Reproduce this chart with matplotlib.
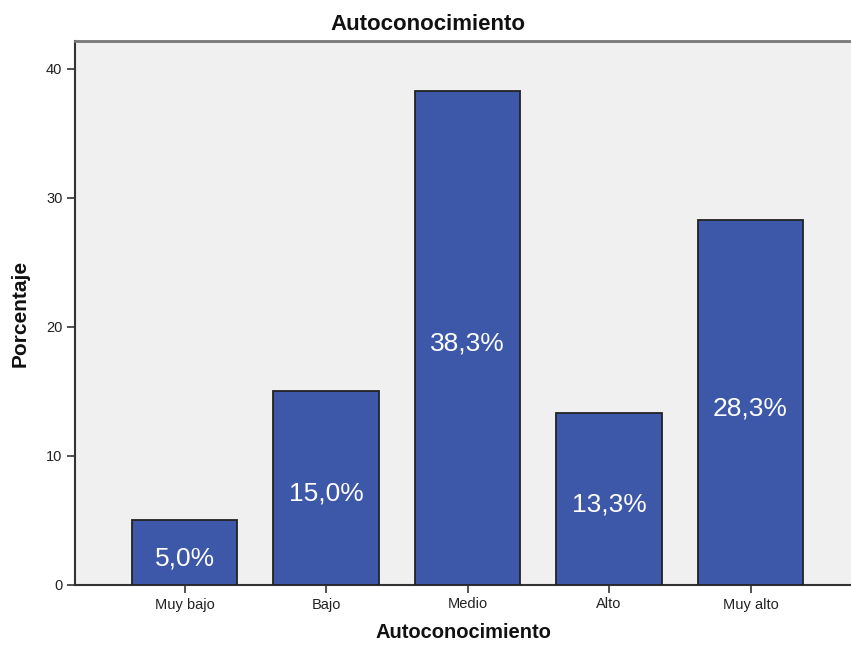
import matplotlib
matplotlib.use("Agg")
import matplotlib.pyplot as plt

categories = ["Muy bajo", "Bajo", "Medio", "Alto", "Muy alto"]
percentages = [5.0, 15.0, 38.3, 13.3, 28.3]
value_labels = ["5,0%", "15,0%", "38,3%", "13,3%", "28,3%"]
y_ticks = [0, 10, 20, 30, 40]

plt.rcParams["font.family"] = ["Liberation Sans", "DejaVu Sans"]

fig = plt.figure(figsize=(8.51, 6.45), dpi=100)
fig.patch.set_facecolor("white")
ax = fig.add_axes([75 / 851, 60 / 645, 1 - 75 / 851, (585 - 41) / 645])
ax.set_facecolor("#F0F0F0")

x = list(range(len(categories)))
bars = ax.bar(x, percentages, width=0.745, color="#3D57A9",
              edgecolor="#222222", linewidth=1.3, zorder=3)

for xi, val, lab in zip(x, percentages, value_labels):
    ax.annotate(lab, (xi, val / 2), xytext=(0, -4), textcoords="offset points",
                ha="center", va="center", color="white", fontsize=19, zorder=4)

ax.set_xlim(-0.774, 4.71)
ax.set_ylim(0, 42.17)
ax.set_xticks(x)
ax.set_xticklabels(categories, fontsize=10.5, color="#222222")
ax.set_yticks(y_ticks)
ax.set_yticklabels([str(t) for t in y_ticks], fontsize=10.5, color="#222222")
ax.tick_params(axis="both", length=6, width=1.2, color="#333333", pad=3)

for side in ("left", "bottom"):
    ax.spines[side].set_color("#333333")
    ax.spines[side].set_linewidth(1.5)
ax.spines["top"].set_color("#777777")
ax.spines["top"].set_linewidth(2)
ax.spines["right"].set_visible(False)

# Chart title is centred on the whole figure
fig.text(428 / 851, 1 - 24 / 645, "Autoconocimiento", ha="center", va="center",
         fontsize=16, fontweight="bold", color="#111111")
ax.set_xlabel("Autoconocimiento", fontsize=14.5, fontweight="bold", labelpad=8, color="#111111")
ax.set_ylabel("Porcentaje", fontsize=15, fontweight="bold", labelpad=12, color="#111111")

fig.savefig("out.png", dpi=100)
